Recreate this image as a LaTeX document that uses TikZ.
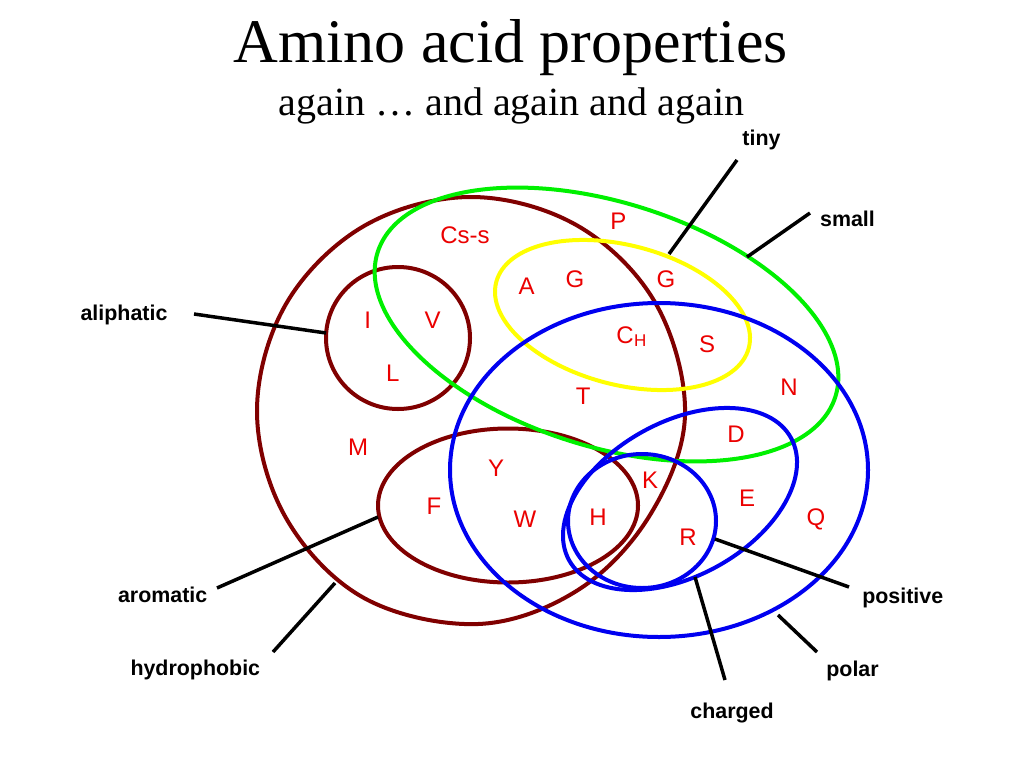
\documentclass[tikz,border=0pt]{standalone}
\usepackage{fontspec}
\setmainfont{Liberation Serif}
\newfontfamily\arialf{Liberation Sans}
\definecolor{maroonc}{RGB}{128,0,0}
\definecolor{limec}{RGB}{0,240,0}
\definecolor{yellowc}{RGB}{255,255,0}
\definecolor{bluec}{RGB}{0,0,240}
\definecolor{redc}{RGB}{235,0,0}
\begin{document}
\begin{tikzpicture}[x=1pt,y=-1pt,
  setline/.style={line width=4pt},
  lead/.style={line width=3.5pt, black},
  lbl/.style={font=\arialf\bfseries\fontsize{21.4}{24}\selectfont, inner sep=0pt, anchor=base},
  aa/.style={font=\arialf\fontsize{24}{28}\selectfont, text=redc, inner sep=0pt}]
\useasboundingbox (0,0) rectangle (1024,768);
\fill[white] (0,0) rectangle (1024,768);

% titles
\node[font=\fontsize{62}{70}\selectfont, anchor=base, inner sep=0pt] (title) at (510.5,63) {Amino acid properties};
\node[font=\fontsize{40}{46}\selectfont, anchor=base, inner sep=0pt] (sub) at (511.5,115) {again … and again and again};

% sets
\draw[setline, maroonc] plot[smooth cycle, tension=0.6] coordinates {(685,415) (650,515) (578,590) (478,624) (364,598) (286,518) (257,411) (286,304) (364,226) (471,197) (578,226) (656,304)};
\draw[setline, maroonc] (398,338) ellipse [x radius=72pt, y radius=71pt];
\draw[setline, maroonc] (508,505.5) ellipse [x radius=130pt, y radius=77pt];
\draw[setline, limec, rotate around={-17.5:(606.5,324.5)}] (606.5,324.5) ellipse [x radius=240pt, y radius=122pt];
\draw[setline, yellowc, rotate around={-14.6:(622.5,315)}] (622.5,315) ellipse [x radius=130.5pt, y radius=69.7pt];
\draw[setline, bluec] (659,470) ellipse [x radius=209pt, y radius=167pt];
\draw[setline, bluec, rotate around={28.9:(680,499)}] (680,499) ellipse [x radius=126.7pt, y radius=77pt];
\draw[setline, bluec] (642,521) ellipse [x radius=74pt, y radius=67pt];

% amino acids
\node[aa] (css) at (465,235.5) {Cs-s};
\node[aa] (P) at (618.3,221.7) {P};
\node[aa] (A) at (526.7,286.7) {A};
\node[aa] (G1) at (575,279.3) {G};
\node[aa] (G2) at (666,279.3) {G};
\node[aa, anchor=base] (CH) at (631.3,343.5) {C\kern0.5pt{\fontsize{17}{17}\selectfont\raisebox{-3pt}{H}}};
\node[aa] (S) at (707,344) {S};
\node[aa] (I) at (367.7,320.7) {I};
\node[aa] (V) at (432.7,320.7) {V};
\node[aa] (L) at (392.7,373.3) {L};
\node[aa] (T) at (583.3,396.7) {T};
\node[aa] (N) at (789,387) {N};
\node[aa] (D) at (736,434) {D};
\node[aa] (M) at (358,447) {M};
\node[aa] (Y) at (496,468) {Y};
\node[aa] (K) at (650,480) {K};
\node[aa] (E) at (747,498) {E};
\node[aa] (F) at (434,506) {F};
\node[aa] (W) at (525,519) {W};
\node[aa] (H) at (598,517) {H};
\node[aa] (Q) at (816,519) {Q};
\node[aa] (R) at (688,537) {R};

% labels
\node[lbl] (tiny) at (761.5,145) {tiny};
\node[lbl] (small) at (847.5,226.7) {small};
\node[lbl] (aliphatic) at (124,320) {aliphatic};
\node[lbl] (aromatic) at (162.7,602.7) {aromatic};
\node[lbl] (hydrophobic) at (195.3,675) {hydrophobic};
\node[lbl] (positive) at (902.7,603.3) {positive};
\node[lbl] (polar) at (852.5,676.7) {polar};
\node[lbl] (charged) at (732,718.3) {charged};

% leader lines
\coordinate (tinyA) at (737,160);   \coordinate (tinyB) at (669,254);
\coordinate (smallA) at (810,213);  \coordinate (smallB) at (747,257);
\coordinate (aliA) at (194,314);    \coordinate (aliB) at (326,333);
\coordinate (aroA) at (217,588);    \coordinate (aroB) at (378,517);
\coordinate (hydA) at (273,652);    \coordinate (hydB) at (335,583);
\coordinate (posA) at (849,587);    \coordinate (posB) at (715,539);
\coordinate (polA) at (817,652);    \coordinate (polB) at (778,615);
\coordinate (chaA) at (725,680);    \coordinate (chaB) at (695,577);
\draw[lead] (tinyA) -- (tinyB);
\draw[lead] (smallA) -- (smallB);
\draw[lead] (aliA) -- (aliB);
\draw[lead] (aroA) -- (aroB);
\draw[lead] (hydA) -- (hydB);
\draw[lead] (posA) -- (posB);
\draw[lead] (polA) -- (polB);
\draw[lead] (chaA) -- (chaB);
\end{tikzpicture}
\end{document}
